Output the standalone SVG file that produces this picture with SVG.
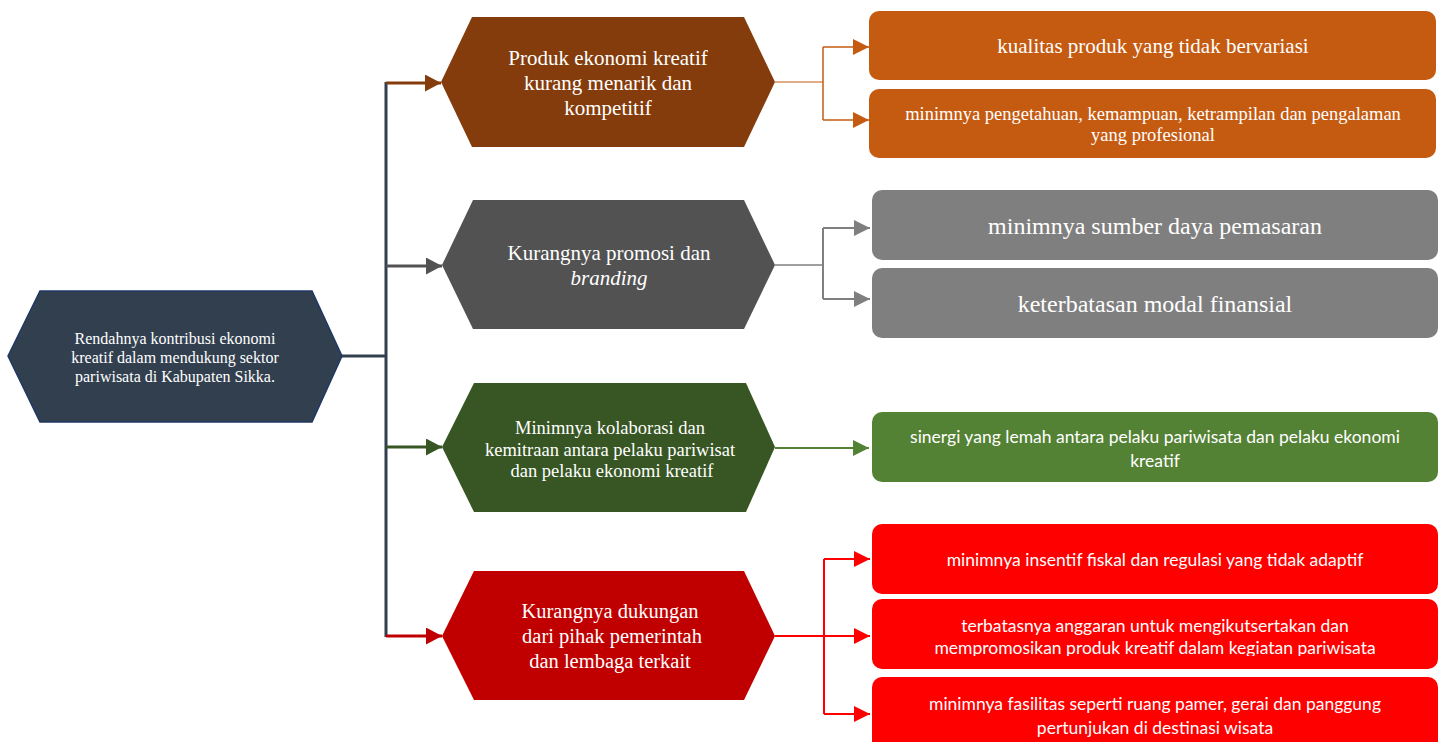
<svg xmlns="http://www.w3.org/2000/svg" width="1442" height="742" viewBox="0 0 1442 742">
<style>
.serif{font-family:"Liberation Serif","Times New Roman",serif;fill:#ffffff;text-anchor:middle;}
.sans{font-family:Lato,"Open Sans","Liberation Sans",sans-serif;fill:#ffffff;text-anchor:middle;font-size:17.5px;}
.ln{fill:none;}
</style>
<defs>
<marker id="aBrown" markerUnits="userSpaceOnUse" markerWidth="16" markerHeight="17" refX="16" refY="8.5" orient="auto"><polygon points="0,0 16,8.5 0,17" fill="#843C0C"/></marker>
<marker id="aGray" markerUnits="userSpaceOnUse" markerWidth="16" markerHeight="17" refX="16" refY="8.5" orient="auto"><polygon points="0,0 16,8.5 0,17" fill="#525252"/></marker>
<marker id="aGreen" markerUnits="userSpaceOnUse" markerWidth="16" markerHeight="17" refX="16" refY="8.5" orient="auto"><polygon points="0,0 16,8.5 0,17" fill="#375623"/></marker>
<marker id="aRed" markerUnits="userSpaceOnUse" markerWidth="16" markerHeight="17" refX="16" refY="8.5" orient="auto"><polygon points="0,0 16,8.5 0,17" fill="#C00000"/></marker>
<marker id="bOrange" markerUnits="userSpaceOnUse" markerWidth="16" markerHeight="16" refX="16" refY="8" orient="auto"><polygon points="0,0 16,8 0,16" fill="#C55A11"/></marker>
<marker id="bGray" markerUnits="userSpaceOnUse" markerWidth="16" markerHeight="16" refX="16" refY="8" orient="auto"><polygon points="0,0 16,8 0,16" fill="#7F7F7F"/></marker>
<marker id="bGreen" markerUnits="userSpaceOnUse" markerWidth="16" markerHeight="16" refX="16" refY="8" orient="auto"><polygon points="0,0 16,8 0,16" fill="#548235"/></marker>
<marker id="bRed" markerUnits="userSpaceOnUse" markerWidth="16" markerHeight="16" refX="16" refY="8" orient="auto"><polygon points="0,0 16,8 0,16" fill="#FF0000"/></marker>
<clipPath id="clipR2"><rect x="872" y="599" width="566" height="57"/></clipPath>
</defs>
<rect width="1442" height="742" fill="#ffffff"/>

<g id="connectors">
<line class="ln" x1="342" y1="356" x2="386" y2="356" stroke="#323F4F" stroke-width="3"/>
<line class="ln" x1="386" y1="82" x2="386" y2="637" stroke="#323F4F" stroke-width="3"/>
<polyline class="ln" points="386,83 441,83" stroke="#843C0C" stroke-width="3" marker-end="url(#aBrown)"/>
<polyline class="ln" points="386,266 442,266" stroke="#525252" stroke-width="3" marker-end="url(#aGray)"/>
<polyline class="ln" points="386,447 442,447" stroke="#375623" stroke-width="3" marker-end="url(#aGreen)"/>
<polyline class="ln" points="386,636 442,636" stroke="#C00000" stroke-width="3" marker-end="url(#aRed)"/>

<line class="ln" x1="775" y1="82" x2="823" y2="82" stroke="#C55A11" stroke-width="1"/>
<polyline class="ln" points="823,47 823,120" stroke="#C55A11" stroke-width="1.5"/>
<line class="ln" x1="823" y1="47" x2="869" y2="47" stroke="#C55A11" stroke-width="1.5" marker-end="url(#bOrange)"/>
<line class="ln" x1="823" y1="120" x2="869" y2="120" stroke="#C55A11" stroke-width="1.5" marker-end="url(#bOrange)"/>

<line class="ln" x1="775" y1="265" x2="823" y2="265" stroke="#7F7F7F" stroke-width="1.5"/>
<polyline class="ln" points="823,228 823,299" stroke="#7F7F7F" stroke-width="2"/>
<line class="ln" x1="823" y1="228" x2="870" y2="228" stroke="#7F7F7F" stroke-width="2" marker-end="url(#bGray)"/>
<line class="ln" x1="823" y1="299" x2="870" y2="299" stroke="#7F7F7F" stroke-width="2" marker-end="url(#bGray)"/>

<line class="ln" x1="775" y1="448" x2="869" y2="448" stroke="#548235" stroke-width="2" marker-end="url(#bGreen)"/>

<line class="ln" x1="775" y1="636" x2="870" y2="636" stroke="#FF0000" stroke-width="2" marker-end="url(#bRed)"/>
<polyline class="ln" points="824,559 824,714" stroke="#FF0000" stroke-width="2"/>
<line class="ln" x1="824" y1="559" x2="870" y2="559" stroke="#FF0000" stroke-width="2" marker-end="url(#bRed)"/>
<line class="ln" x1="824" y1="714" x2="870" y2="714" stroke="#FF0000" stroke-width="2" marker-end="url(#bRed)"/>
</g>

<g id="root">
<polygon points="8,356 40,291 312,291 342,356 312,422 40,422" fill="#323F4F" stroke="#1F3864" stroke-width="1.5"/>
<text class="serif" font-size="16" x="175" y="344">Rendahnya kontribusi ekonomi</text>
<text class="serif" font-size="16" x="175" y="363">kreatif dalam mendukung sektor</text>
<text class="serif" font-size="16" x="175" y="382">pariwisata di Kabupaten Sikka.</text>
</g>

<g id="hex1">
<polygon points="441,82 472,17 744,17 775,82 744,147 472,147" fill="#843C0C"/>
<text class="serif" font-size="21" x="608" y="65">Produk ekonomi kreatif</text>
<text class="serif" font-size="21" x="608" y="90">kurang menarik dan</text>
<text class="serif" font-size="21" x="608" y="115">kompetitif</text>
</g>

<g id="hex2">
<polygon points="442,265 473,200 744,200 775,265 744,329 473,329" fill="#525252"/>
<text class="serif" font-size="21" x="609" y="260">Kurangnya promosi dan</text>
<text class="serif" font-size="21" x="609" y="285" font-style="italic">branding</text>
</g>

<g id="hex3">
<polygon points="442,447 474,383 746,383 775,447 746,512 474,512" fill="#375623"/>
<text class="serif" font-size="18.5" x="610" y="434">Minimnya kolaborasi dan</text>
<text class="serif" font-size="18.5" x="610" y="456">kemitraan antara pelaku pariwisat</text>
<text class="serif" font-size="18.5" x="612" y="477">dan pelaku ekonomi kreatif</text>
</g>

<g id="hex4">
<polygon points="442,636 474,571 744,571 775,636 744,700 474,700" fill="#C00000"/>
<text class="serif" font-size="20.5" x="610" y="618">Kurangnya dukungan</text>
<text class="serif" font-size="20.5" x="612" y="643">dari pihak pemerintah</text>
<text class="serif" font-size="20.5" x="610" y="668">dan lembaga terkait</text>
</g>

<g id="o1">
<rect x="869" y="11" width="567" height="69" rx="10" fill="#C55A11"/>
<text class="serif" font-size="21" x="1153" y="53">kualitas produk yang tidak bervariasi</text>
</g>
<g id="o2">
<rect x="869" y="89" width="567" height="69" rx="10" fill="#C55A11"/>
<text class="serif" font-size="18.5" x="1153" y="120">minimnya pengetahuan, kemampuan, ketrampilan dan pengalaman</text>
<text class="serif" font-size="18.5" x="1153" y="141">yang profesional</text>
</g>

<g id="g1">
<rect x="872" y="190" width="566" height="70" rx="10" fill="#7F7F7F"/>
<text class="serif" font-size="24" x="1155" y="234">minimnya sumber daya pemasaran</text>
</g>
<g id="g2">
<rect x="872" y="268" width="566" height="70" rx="10" fill="#7F7F7F"/>
<text class="serif" font-size="24" x="1155" y="312">keterbatasan modal finansial</text>
</g>

<g id="gr1">
<rect x="872" y="412" width="566" height="70" rx="10" fill="#548235"/>
<text class="sans" x="1155" y="443">sinergi yang lemah antara pelaku pariwisata dan pelaku ekonomi</text>
<text class="sans" x="1155" y="467">kreatif</text>
</g>

<g id="r1">
<rect x="872" y="524" width="566" height="70" rx="10" fill="#FF0000"/>
<text class="sans" x="1155" y="566">minimnya insentif fiskal dan regulasi yang tidak adaptif</text>
</g>
<g id="r2">
<rect x="872" y="599" width="566" height="70" rx="10" fill="#FF0000"/>
<g clip-path="url(#clipR2)">
<text class="sans" x="1155" y="632">terbatasnya anggaran untuk mengikutsertakan dan</text>
<text class="sans" x="1155" y="654">mempromosikan produk kreatif dalam kegiatan pariwisata</text>
</g>
</g>
<g id="r3">
<rect x="872" y="677" width="566" height="75" rx="10" fill="#FF0000"/>
<text class="sans" x="1155" y="710">minimnya fasilitas seperti ruang pamer, gerai dan panggung</text>
<text class="sans" x="1155" y="734">pertunjukan di destinasi wisata</text>
</g>
</svg>
